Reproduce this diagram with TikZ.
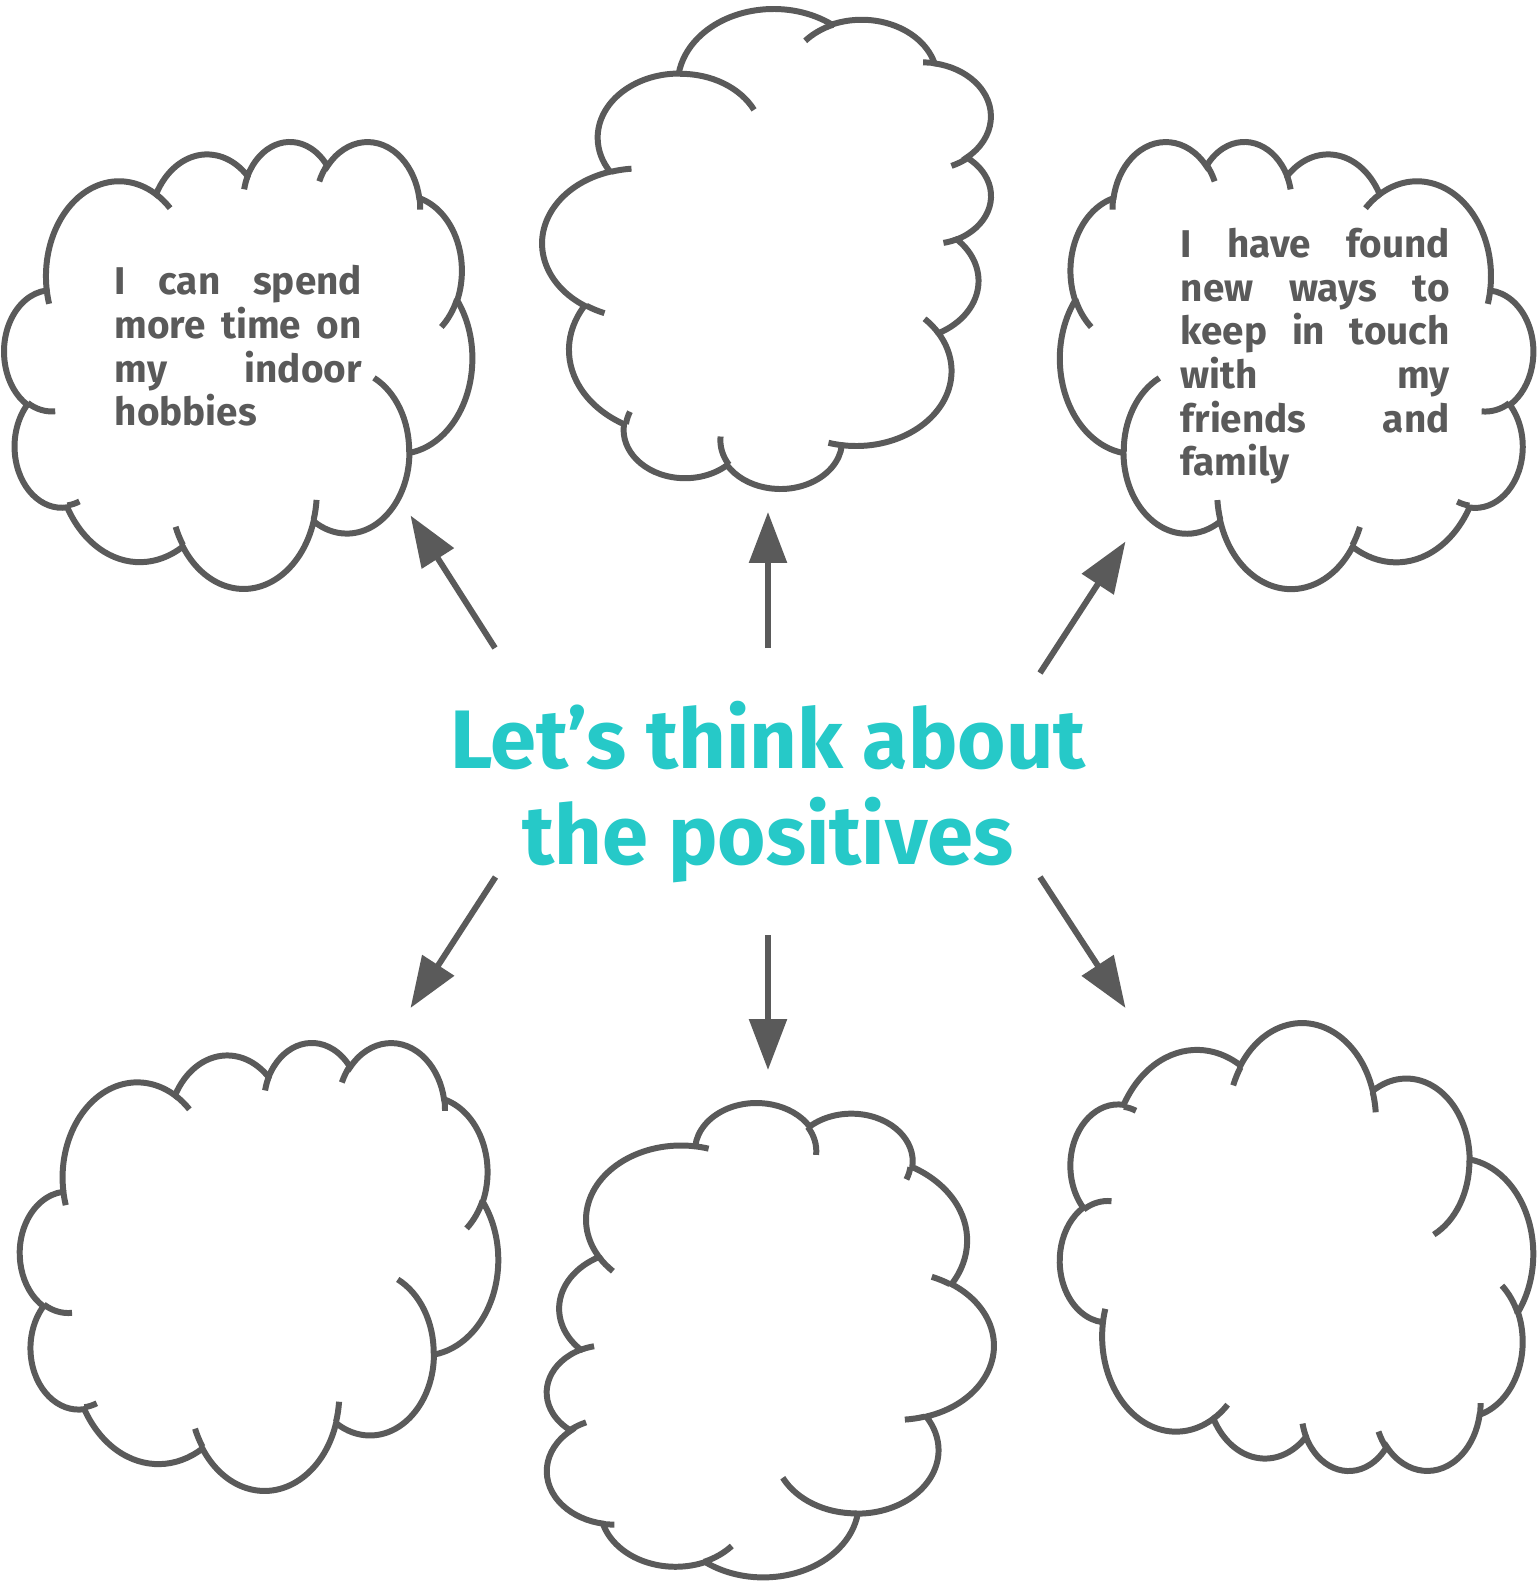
\documentclass[tikz,border=0pt]{standalone}
\usepackage{fontspec}
\setmainfont{Fira Sans}
\usetikzlibrary{arrows.meta}

\definecolor{linegray}{HTML}{5A5A5A}
\definecolor{titleteal}{HTML}{26C9C8}

% one cloud in a 100 x 100 box (y pointing down)
\newcommand{\cloudshape}{%
  \draw[cloudline] (9.028,33.264)
    arc[start angle=-187.746, delta angle=128.109, x radius=15.632, y radius=21.273]
    arc[start angle=-152.02, delta angle=106.568, x radius=12.345, y radius=16.822]
    arc[start angle=-153.49, delta angle=116.16, x radius=10.104, y radius=13.762]
    arc[start angle=-139.71, delta angle=129.50, x radius=11.243, y radius=15.266]
    arc[start angle=-74.77, delta angle=97.98, x radius=12.345, y radius=16.836]
    arc[start angle=-37.52, delta angle=119.38, x radius=15.683, y radius=21.343]
    arc[start angle=0.46, delta angle=121.52, x radius=13.391, y radius=18.211]
    arc[start angle=16.84, delta angle=129.40, x radius=15.630, y radius=21.331]
    arc[start angle=58.99, delta angle=91.20, x radius=17.870, y radius=24.405]
    arc[start angle=83.31, delta angle=139.79, x radius=10.093, y radius=13.699]
    arc[start angle=120.36, delta angle=143.75, x radius=10.058, y radius=13.762]
    -- cycle;
  \draw[cloudline]
    (10.863,60.595) arc[start angle=85.547, delta angle=34.81, x radius=10.058, y radius=13.762]
    (16.037,80.785) arc[start angle=68.24, delta angle=15.07, x radius=10.093, y radius=13.699]
    (38.144,90.486) arc[start angle=146.24, delta angle=12.23, x radius=15.630, y radius=21.331]
    (66.729,80.442) arc[start angle=4.738, delta angle=12.10, x radius=15.630, y radius=21.331]
    (79.002,53.134) arc[start angle=-64.03, delta angle=64.49, x radius=13.391, y radius=18.211]
    (96.755,35.542) arc[start angle=23.21, delta angle=26.42, x radius=12.345, y radius=16.836]
    (88.713,12.560) arc[start angle=-10.21, delta angle=11.03, x radius=11.243, y radius=15.266]
    (67.310,9.148) arc[start angle=-156.28, delta angle=16.57, x radius=11.243, y radius=15.266]
    (51.252,10.926) arc[start angle=-167.73, delta angle=14.24, x radius=10.104, y radius=13.762]
    (32.407,12.019) arc[start angle=-59.637, delta angle=13.91, x radius=15.632, y radius=21.273]
    (9.553,36.549) arc[start angle=163.19, delta angle=9.06, x radius=15.632, y radius=21.273];
}

\begin{document}
\begin{tikzpicture}[x=0.01cm, y=-0.01cm,
    cloudline/.style={draw=linegray, line width=1.7pt},
    pointer/.style={draw=linegray, line width=1.7pt, -{Triangle[length=14.5pt, width=10.5pt]}},
    thought/.style={text=linegray, font=\bfseries\fontsize{11}{12.43}\selectfont,
        align=justify, inner sep=0pt, anchor=north west}]
    %% Background
    \fill[white] (0,0) rectangle (1536,1582);
    \useasboundingbox (0,0) rectangle (1536,1582);

    %% Clouds
    \begin{scope}[cm={4.678,0,0,4.468,(4.4,140.5)}] \cloudshape \end{scope}
    \begin{scope}[cm={0,4.794,4.488,0,(992.5,488.6)}] \cloudshape \end{scope}
    \begin{scope}[cm={-4.73,0,0,4.47,(1533,140.5)}] \cloudshape \end{scope}
    \begin{scope}[cm={4.78,0,0,4.478,(20.1,1041.5)}] \cloudshape \end{scope}
    \begin{scope}[cm={0,-4.738,-4.471,0,(545.2,1103.4)}] \cloudshape \end{scope}
    \begin{scope}[cm={4.73,0,0,-4.478,(1060.1,1472.5)}] \cloudshape \end{scope}

    %% Title
    \node[text=titleteal, font=\bfseries\fontsize{23.6}{27.2}\selectfont, align=center,
        inner sep=0pt, anchor=north] (title) at (768,697.4)
        {\rule{0pt}{20pt}Let’s think about\\the positives};

    %% Thoughts
    \node[thought, text width=70.3pt] (hobbies) at (114,258.85)
        {\noindent\rule{0pt}{10pt}I can spend\linebreak more time on\linebreak my indoor\linebreak hobbies};
    \node[thought, text width=76.5pt] (touch) at (1180,221.55)
        {\noindent\rule{0pt}{10pt}I have found\linebreak new ways to\linebreak keep in touch\linebreak with my\linebreak friends and\linebreak family};

    %% Arrows
    \coordinate (ulTail) at (495,648);   \coordinate (ulTip) at (410.5,515.5);
    \coordinate (upTail) at (768,648);   \coordinate (upTip) at (768,512);
    \coordinate (urTail) at (1040,673);  \coordinate (urTip) at (1125.5,541.5);
    \coordinate (llTail) at (495.5,877); \coordinate (llTip) at (410.5,1008);
    \coordinate (dnTail) at (768,935);   \coordinate (dnTip) at (768,1070);
    \coordinate (lrTail) at (1040,877);  \coordinate (lrTip) at (1125.5,1008);
    \draw[pointer] (ulTail) -- (ulTip);
    \draw[pointer] (upTail) -- (upTip);
    \draw[pointer] (urTail) -- (urTip);
    \draw[pointer] (llTail) -- (llTip);
    \draw[pointer] (dnTail) -- (dnTip);
    \draw[pointer] (lrTail) -- (lrTip);
\end{tikzpicture}
\end{document}
